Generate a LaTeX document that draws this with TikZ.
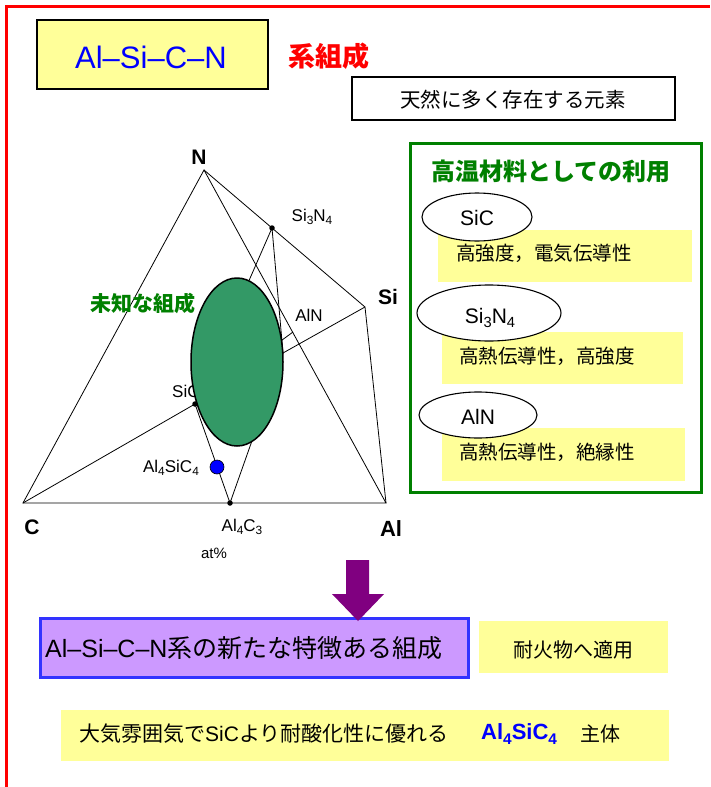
\documentclass[tikz,border=0pt]{standalone}
\usepackage{fontspec}
\setmainfont{Liberation Sans}
\newfontfamily\jp{Noto Sans CJK JP}
\newcommand\subs[1]{\raisebox{-0.35ex}{\scalebox{0.7}{#1}}}
\newcommand\fs[1]{\fontsize{#1}{#1}\selectfont}
\definecolor{yel}{RGB}{255,255,153}
\definecolor{ellgreen}{RGB}{51,153,102}
\definecolor{dkgreen}{RGB}{0,128,0}
\definecolor{purp}{RGB}{128,0,128}
\definecolor{lilac}{RGB}{204,153,255}
\definecolor{bblue}{RGB}{51,51,255}
\tikzset{
  lbl/.style={inner sep=0, font=\fs{17}},
  vtx/.style={inner sep=0, font=\bfseries\fs{21}},
  jtxt/.style={inner sep=0, font=\jp\fs{20}},
  tline/.style={line width=0.8pt, black},
  ptdot/.style={circle, fill=black, inner sep=0, minimum size=5.5pt},
  ybox/.style={fill=yel, draw=none},
  wellipse/.style={fill=white, draw=black, line width=1.1pt},
}
\begin{document}
\begin{tikzpicture}[x=1pt,y=-1pt]
\useasboundingbox (0,0) rectangle (710,787);
\fill[white] (0,0) rectangle (710,787);
% red frame
\draw[red, line width=3pt] (6.5,787) -- (6.5,6.5) -- (710,6.5);
% title
\draw[fill=yel, line width=1.3pt] (37,20) rectangle (268,89);
\node[inner sep=0, font=\fs{31}, text=blue] (title) at (151,57) {Al–Si–C–N};
\node[inner sep=0, font=\jp\bfseries\fs{27}, text=red] (kei) at (329,56) {系組成};
\draw[fill=white, line width=1.3pt] (352,77) rectangle (675,120);
\node[jtxt, font=\jp\fs{20.5}] (tennen) at (513,100) {天然に多く存在する元素};
% triangle coordinates
\coordinate (N) at (204,170);
\coordinate (C) at (23,503);
\coordinate (Al) at (386,503);
\coordinate (Si) at (365,307);
\coordinate (Si3N4) at (272,228);
\coordinate (SiC) at (195,404);
\coordinate (Al4C3) at (230,503);
\coordinate (AlN) at (293,332);
\coordinate (P) at (283,353);
\draw[tline] (C) -- (N) -- (Al) -- cycle;
\draw[tline] (N) -- (Si3N4) -- (Si) -- (Al);
\draw[tline] (C) -- (SiC) -- (P) -- (Si);
\draw[tline] (Si3N4) -- (SiC);
\draw[tline] (Si3N4) -- (P) -- (Al4C3);
\draw[tline] (SiC) -- (Al4C3);
\draw[tline] (SiC) -- (AlN);
% labels
\node[vtx] (lN) at (199,157) {N};
\node[vtx] (lSi) at (388,297) {Si};
\node[vtx] (lC) at (32,527) {C};
\node[vtx, font=\bfseries\fs{22}] (lAl) at (391,529) {Al};
\node[lbl] (lSi3N4) at (312,217) {Si\subs{3}N\subs{4}};
\node[lbl] (lAlN) at (309,315) {AlN};
\node[lbl, anchor=west] (lSiC) at (172,391) {SiC};
\node[lbl] (lAl4SiC4) at (171,468) {Al\subs{4}SiC\subs{4}};
\node[lbl] (lAl4C3) at (242,527) {Al\subs{4}C\subs{3}};
\node[inner sep=0, font=\fs{15}] (lat) at (214,553) {at\%};
\node[inner sep=0, font=\jp\bfseries\fs{21}, text=dkgreen] (lunk) at (143,303) {未知な組成};
% green ellipse
\draw[fill=ellgreen, draw=black, line width=1.5pt] (237,362) ellipse [x radius=46, y radius=84];
% dots
\node[ptdot] (dSi3N4) at (Si3N4) {};
\node[ptdot] (dSiC) at (SiC) {};
\node[ptdot] (dAl4C3) at (Al4C3) {};
\node[circle, fill=blue, draw=black, line width=0.6pt, inner sep=0, minimum size=14pt] (dAl4SiC4) at (217,467) {};
% right box
\draw[dkgreen, line width=3pt] (410,143) rectangle (701,492);
\node[inner sep=0, font=\jp\bfseries\fs{24}, text=dkgreen] (hdr) at (551,171) {高温材料としての利用};
\fill[ybox] (438,230) rectangle (692,282);
\fill[ybox] (442,332) rectangle (683,384);
\fill[ybox] (442,428) rectangle (685,481);
\draw[wellipse] (477,217) ellipse [x radius=55, y radius=24];
\draw[wellipse] (489,313) ellipse [x radius=72, y radius=28];
\draw[wellipse] (478,415) ellipse [x radius=59, y radius=23];
\node[inner sep=0, font=\fs{21}] (eSiC) at (477,218) {SiC};
\node[inner sep=0, font=\fs{21}] (eSi3N4) at (490,318) {Si\subs{3}N\subs{4}};
\node[inner sep=0, font=\fs{21}] (eAlN) at (478,417) {AlN};
\node[jtxt, font=\jp\fs{19.5}, anchor=west] (t1) at (456,253) {高強度，電気伝導性};
\node[jtxt, font=\jp\fs{19.5}, anchor=west] (t2) at (459,356) {高熱伝導性，高強度};
\node[jtxt, font=\jp\fs{19.5}, anchor=west] (t3) at (459,452) {高熱伝導性，絶縁性};
% bottom
\draw[fill=lilac, draw=bblue, line width=3pt] (40,618) rectangle (468,677);
\fill[purp] (346,560) -- (369,560) -- (369,594) -- (384,594) -- (358,621) -- (332,594) -- (346,594) -- cycle;
\node[inner sep=0, font=\fs{25}, anchor=west] (newcomp) at (45,648) {Al–Si–C–N{\jp 系の新たな特徴ある組成}};
\fill[ybox] (479,621) rectangle (668,673);
\node[jtxt] (taika) at (573,650) {耐火物へ適用};
\fill[ybox] (61,710) rectangle (669,761);
\node[inner sep=0, font=\fs{21}, anchor=west] (oxid) at (79,734) {{\jp 大気雰囲気で}SiC{\jp より耐酸化性に優れる}};
\node[inner sep=0, font=\bfseries\fs{22}, text=blue, anchor=west] (al4) at (481,734) {Al\subs{4}SiC\subs{4}};
\node[jtxt, anchor=west] (shutai) at (580,734) {主体};
\end{tikzpicture}
\end{document}
